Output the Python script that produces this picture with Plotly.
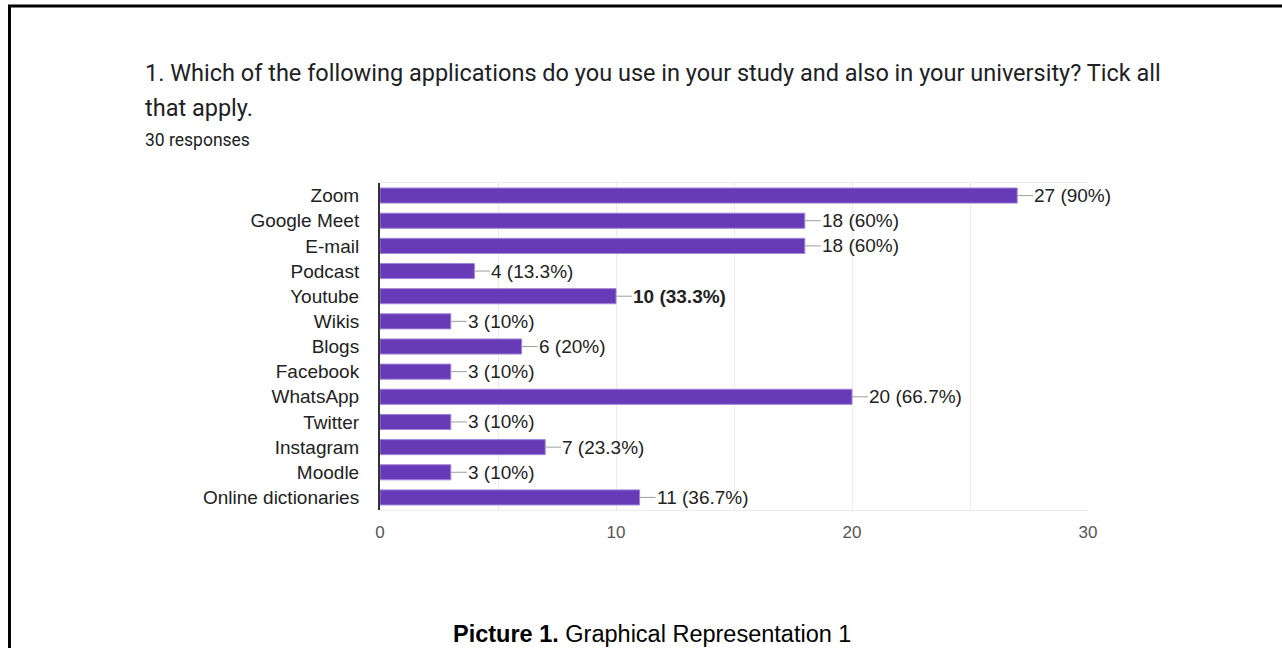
import plotly.graph_objects as go

categories = ["Zoom", "Google Meet", "E-mail", "Podcast", "Youtube", "Wikis", "Blogs",
              "Facebook", "WhatsApp", "Twitter", "Instagram", "Moodle", "Online dictionaries"]
counts = [27, 18, 18, 4, 10, 3, 6, 3, 20, 3, 7, 3, 11]
percents = ["90%", "60%", "60%", "13.3%", "33.3%", "10%", "20%", "10%", "66.7%", "10%", "23.3%", "10%", "36.7%"]
bold_label = "Youtube"
x_ticks = [0, 10, 20, 30]
total_responses = 30

title_line1 = "1. Which of the following applications do you use in your study and also in your university? Tick all"
title_line2 = "that apply."
subtitle = f"{total_responses} responses"
caption_bold = "Picture 1."
caption_rest = " Graphical Representation 1"

W, H = 1282, 648
L, R, T, B = 380, 1088, 183, 510  # plot area in pixels


def px(xp):
    return (xp - L) / (R - L)


def py(yp):
    return (B - yp) / (B - T)


fig = go.Figure()
fig.add_trace(go.Bar(
    x=counts, y=categories, orientation="h",
    marker=dict(color="#673ab7", line=dict(color="#9f86d6", width=1)),
    width=0.6, hoverinfo="skip",
))

annotations = []
for cat, c, p in zip(categories, counts, percents):
    label = f"{c} ({p})"
    if cat == bold_label:
        label = f"<b>{label}</b>"
    annotations.append(dict(
        x=c, y=cat, xref="x", yref="y", text=label,
        showarrow=True, arrowhead=0, arrowwidth=1, arrowcolor="#9e9e9e",
        ax=16, ay=0, xanchor="left", yanchor="middle", borderpad=0,
        font=dict(family="Liberation Sans, Arial", size=19, color="#222222"),
    ))

text_font = "Roboto, Open Sans, sans-serif"
annotations += [
    dict(x=px(143), y=py(73), xref="paper", yref="paper", text=title_line1, showarrow=False,
         xanchor="left", yanchor="middle", font=dict(family=text_font, size=23.5, color="#202124")),
    dict(x=px(143), y=py(108), xref="paper", yref="paper", text=title_line2, showarrow=False,
         xanchor="left", yanchor="middle", font=dict(family=text_font, size=23.5, color="#202124")),
    dict(x=px(143), y=py(140), xref="paper", yref="paper", text=subtitle, showarrow=False,
         xanchor="left", yanchor="middle", font=dict(family=text_font, size=17.5, color="#202124")),
    dict(x=px(652), y=py(634), xref="paper", yref="paper",
         text=f"<b>{caption_bold}</b>{caption_rest}", showarrow=False,
         xanchor="center", yanchor="middle",
         font=dict(family="Liberation Sans Narrow, Arial Narrow, Liberation Sans", size=23.5, color="#000000")),
]

shapes = [
    dict(type="line", xref="paper", yref="paper", x0=px(8), x1=px(1290), y0=py(6), y1=py(6),
         line=dict(color="black", width=3)),
    dict(type="line", xref="paper", yref="paper", x0=px(9.5), x1=px(9.5), y0=py(5), y1=py(660),
         line=dict(color="black", width=3)),
]

fig.update_layout(
    width=W, height=H,
    margin=dict(l=L, r=W - R, t=T, b=H - B, pad=0),
    paper_bgcolor="white", plot_bgcolor="white",
    showlegend=False,
    bargap=0.4,
    annotations=annotations,
    shapes=shapes,
    xaxis=dict(
        range=[0, 30], tickvals=x_ticks, ticktext=[str(v) for v in x_ticks],
        showgrid=True, gridcolor="#ebebeb", gridwidth=1,
        minor=dict(dtick=5, showgrid=True, gridcolor="#ebebeb", gridwidth=1),
        zeroline=False, showline=True, linecolor="#ebebeb", linewidth=1, mirror=True,
        ticks="", tickfont=dict(family="Liberation Sans, Arial", size=17, color="#555555"),
        ticklabelstandoff=7, fixedrange=True,
    ),
    yaxis=dict(
        categoryorder="array", categoryarray=categories,
        range=[len(categories) - 0.5, -0.5], autorange=False,
        showgrid=False, zeroline=False, showline=True, linecolor="#333333", linewidth=2,
        ticks="", tickfont=dict(family="Liberation Sans, Arial", size=19, color="#222222"),
        ticklabelstandoff=15, fixedrange=True,
    ),
)

fig.write_html("out.html", config={"displayModeBar": False},
               post_script="document.body.style.margin='0';document.body.style.overflow='hidden';")
